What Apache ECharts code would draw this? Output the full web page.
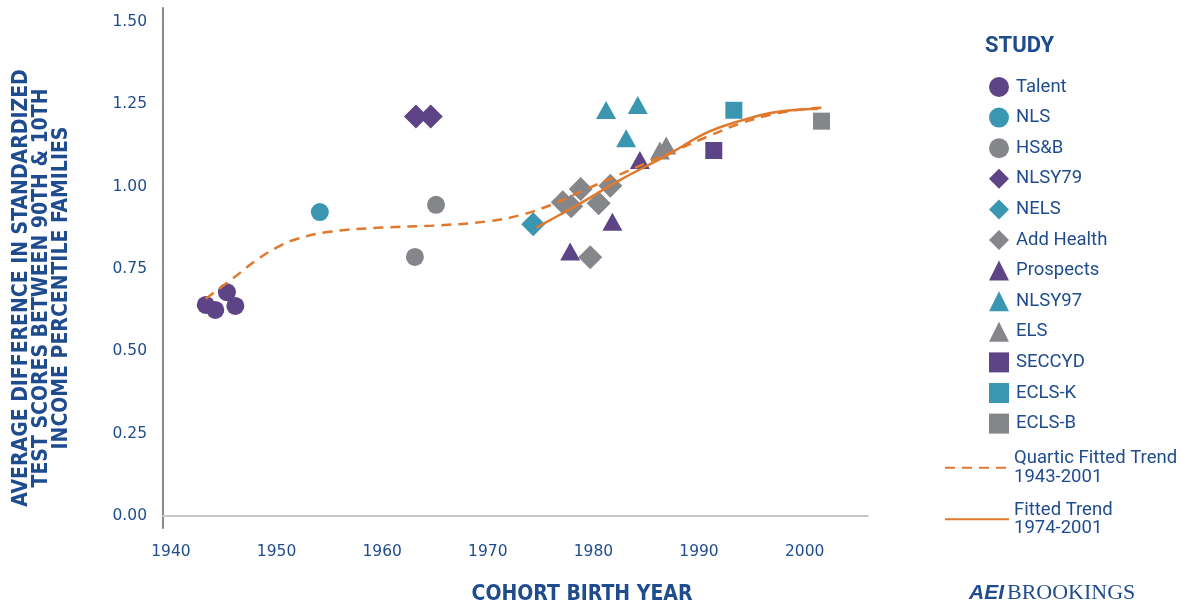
<!DOCTYPE html>
<html>
<head>
<meta charset="utf-8">
<title>Test score gap by cohort</title>
<script src="https://cdn.jsdelivr.net/npm/echarts@6/dist/echarts.min.js"></script>
<style>
  html, body { margin: 0; padding: 0; background: #fff; }
  #chart { width: 1190px; height: 607px; }
</style>
</head>
<body>
<div id="chart"></div>
<script>
// studies: [cohort birth year, gap]
var talent = [[1943.3, 0.641], [1944.2, 0.626], [1945.3, 0.680], [1946.1, 0.638]];
var nls = [[1954.1, 0.923]];
var hsb = [[1963.1, 0.787], [1965.1, 0.945]];
var nlsy79 = [[1963.2, 1.213], [1964.6, 1.213]];
var nels = [[1974.3, 0.886]];
var addHealth = [[1977.1, 0.953], [1977.9, 0.941], [1978.8, 0.993], [1980.5, 0.950], [1981.6, 1.003], [1979.7, 0.786]];
var prospects = [[1977.8, 0.803], [1981.8, 0.894], [1984.4, 1.081]];
var nlsy97 = [[1981.2, 1.233], [1984.2, 1.248], [1983.1, 1.147]];
var els = [[1986.3, 1.110], [1986.9, 1.125]];
var seccyd = [[1991.4, 1.110]];
var eclsK = [[1993.3, 1.232]];
var eclsB = [[2001.6, 1.199]];

// trend lines
var quarticYears = [1943.3, 1946, 1948, 1950, 1952, 1955, 1960, 1965, 1970, 1973, 1976, 1979, 1982, 1985, 1988, 1991, 1994, 1997, 2000, 2001.6];
var quarticValues = [0.660, 0.725, 0.775, 0.815, 0.842, 0.863, 0.876, 0.882, 0.895, 0.913, 0.945, 0.988, 1.030, 1.072, 1.113, 1.155, 1.193, 1.220, 1.236, 1.240];
var fittedYears = [1974.6, 1977, 1979, 1982.5, 1987, 1991, 1995.7, 1998, 2000.5, 2001.3];
var fittedValues = [0.876, 0.918, 0.954, 1.020, 1.096, 1.168, 1.216, 1.230, 1.236, 1.237];

var yTicks = [0, 0.25, 0.5, 0.75, 1, 1.25, 1.5];
var xTicks = [1940, 1950, 1960, 1970, 1980, 1990, 2000];

var purple = '#5d4486', teal = '#3b97b1', gray = '#85868a', orange = '#e0792c';
var textBlue = '#1f4c8e';

function zip(xs, ys) {
  return xs.map(function (x, i) { return [x, ys[i]]; });
}

var studies = [
  { name: 'Talent', data: talent, symbol: 'circle', size: 18, color: purple },
  { name: 'NLS', data: nls, symbol: 'circle', size: 18, color: teal },
  { name: 'HS&B', data: hsb, symbol: 'circle', size: 18, color: gray },
  { name: 'NLSY79', data: nlsy79, symbol: 'diamond', size: 24, color: purple },
  { name: 'NELS', data: nels, symbol: 'diamond', size: 24, color: teal },
  { name: 'Add Health', data: addHealth, symbol: 'diamond', size: 24, color: gray },
  { name: 'Prospects', data: prospects, symbol: 'triangle', size: [20, 18], color: purple },
  { name: 'NLSY97', data: nlsy97, symbol: 'triangle', size: [20, 18], color: teal },
  { name: 'ELS', data: els, symbol: 'triangle', size: [20, 18], color: gray },
  { name: 'SECCYD', data: seccyd, symbol: 'rect', size: 17, color: purple },
  { name: 'ECLS-K', data: eclsK, symbol: 'rect', size: 17, color: teal },
  { name: 'ECLS-B', data: eclsB, symbol: 'rect', size: 17, color: gray }
];

var series = studies.map(function (s) {
  return {
    name: s.name,
    type: 'scatter',
    data: s.data,
    symbol: s.symbol,
    symbolSize: s.size,
    itemStyle: { color: s.color, opacity: 1 },
    z: 2
  };
});
series.push({
  name: 'Quartic Fitted Trend\n1943-2001',
  type: 'line',
  data: zip(quarticYears, quarticValues),
  smooth: 0.4,
  showSymbol: false,
  symbol: 'none',
  lineStyle: { color: orange, width: 2.5, type: [10, 7] },
  itemStyle: { color: orange },
  z: 5
});
series.push({
  name: 'Fitted Trend\n1974-2001',
  type: 'line',
  data: zip(fittedYears, fittedValues),
  smooth: 0.4,
  showSymbol: false,
  symbol: 'none',
  lineStyle: { color: orange, width: 2.5 },
  itemStyle: { color: orange },
  z: 6
});

var myChart = echarts.init(document.getElementById('chart'));
var option = {
  animation: false,
  backgroundColor: '#fff',
  title: {
    text: 'STUDY',
    left: 980, top: 30,
    textStyle: { fontFamily: 'Roboto', fontWeight: 'bold', fontSize: 22, color: textBlue }
  },
  legend: [
    {
      orient: 'vertical',
      left: 984, top: 72,
      itemWidth: 20, itemHeight: 20, itemGap: 10.6,
      data: studies.map(function (s) { return { name: s.name, icon: s.symbol }; }),
      textStyle: { fontFamily: 'Roboto', fontSize: 18.5, color: textBlue, padding: [0, 0, 0, 2] }
    },
    {
      orient: 'vertical',
      left: 939, top: 444,
      itemWidth: 64, itemHeight: 14, itemGap: 14,
      itemStyle: { opacity: 0 },
      data: ['Quartic Fitted Trend\n1943-2001', 'Fitted Trend\n1974-2001'],
      textStyle: { fontFamily: 'Roboto', fontSize: 18.5, lineHeight: 18.5, color: textBlue }
    }
  ],
  grid: { left: 163, right: 322, top: 8, bottom: 79 },
  xAxis: {
    type: 'value',
    min: 1939.25, max: 2006,
    splitLine: { show: false },
    axisTick: { show: false },
    axisLine: { lineStyle: { color: '#c8c8c8', width: 2 } },
    axisLabel: {
      customValues: xTicks,
      margin: 16,
      fontFamily: 'DejaVu Sans', fontSize: 15.5, color: textBlue,
      formatter: function (v) { return String(v); }
    }
  },
  yAxis: {
    type: 'value',
    min: -0.036, max: 1.5425,
    splitLine: { show: false },
    axisTick: { show: false },
    axisLine: { show: true, lineStyle: { color: '#8a8a8a', width: 2 } },
    axisLabel: {
      customValues: yTicks,
      margin: 16,
      fontFamily: 'DejaVu Sans', fontSize: 15.5, color: textBlue,
      formatter: function (v) { return v.toFixed(2); }
    }
  },
  graphic: [
    {
      type: 'text',
      x: 42, y: 288,
      rotation: Math.PI / 2,
      style: {
        text: 'AVERAGE DIFFERENCE IN STANDARDIZED\nTEST SCORES BETWEEN 90TH & 10TH\nINCOME PERCENTILE FAMILIES',
        fontFamily: 'Liberation Sans Narrow, DejaVu Sans Condensed, sans-serif',
        fontWeight: 'bold', fontSize: 21, lineHeight: 20,
        fill: textBlue, align: 'center', verticalAlign: 'middle'
      }
    },
    {
      type: 'text',
      x: 582, y: 595,
      style: {
        text: 'COHORT BIRTH YEAR',
        fontFamily: 'Liberation Sans Narrow, DejaVu Sans Condensed, sans-serif',
        fontWeight: 'bold', fontSize: 21,
        fill: textBlue, align: 'center', verticalAlign: 'middle'
      }
    },
    {
      type: 'text',
      x: 969, y: 593,
      style: {
        text: 'AEI',
        fontFamily: 'Liberation Sans', fontWeight: 'bold', fontStyle: 'italic', fontSize: 21,
        fill: textBlue, align: 'left', verticalAlign: 'middle'
      }
    },
    {
      type: 'text',
      x: 1007, y: 593,
      style: {
        text: 'BROOKINGS',
        fontFamily: 'Liberation Serif', fontSize: 22,
        fill: textBlue, align: 'left', verticalAlign: 'middle'
      }
    }
  ],
  series: series
};
myChart.setOption(option);
window.onresize = myChart.resize;
</script>
</body>
</html>
